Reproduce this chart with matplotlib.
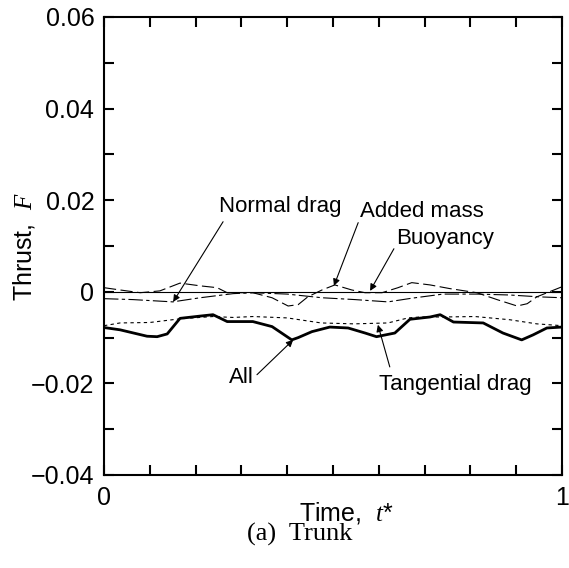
import matplotlib
matplotlib.use("Agg")
import matplotlib.pyplot as plt
from matplotlib.ticker import MultipleLocator, FixedLocator

# values (t*, F)
all_t = [0, 0.035, 0.094, 0.116, 0.138, 0.166, 0.21, 0.238, 0.269, 0.325, 0.367,
         0.41, 0.424, 0.454, 0.493, 0.533, 0.57, 0.595, 0.635, 0.668, 0.712,
         0.734, 0.763, 0.828, 0.871, 0.912, 0.937, 0.967, 1.0]
all_F = [-0.0078, -0.0083, -0.0097, -0.0098, -0.0092, -0.0058, -0.0053, -0.0050,
         -0.0065, -0.0065, -0.0076, -0.0105, -0.0100, -0.0087, -0.0077, -0.0079,
         -0.0090, -0.0098, -0.0090, -0.0060, -0.0055, -0.0050, -0.0066, -0.0068,
         -0.0090, -0.0105, -0.0094, -0.0079, -0.0077]

tan_t = [0, 0.035, 0.10, 0.166, 0.238, 0.282, 0.325, 0.35, 0.40, 0.474, 0.546,
         0.62, 0.664, 0.69, 0.74, 0.81, 0.886, 0.945, 1.0]
tan_F = [-0.0074, -0.0068, -0.0067, -0.0059, -0.0054, -0.0056, -0.0054, -0.0055,
         -0.0057, -0.0068, -0.0070, -0.0068, -0.0057, -0.0055, -0.0055, -0.0054,
         -0.0061, -0.0070, -0.0074]

nor_t = [0, 0.063, 0.15, 0.21, 0.282, 0.325, 0.40, 0.476, 0.548, 0.62, 0.672,
         0.74, 0.814, 0.886, 0.95, 1.0]
nor_F = [-0.0015, -0.0017, -0.0022, -0.0013, -0.0004, -0.0002, -0.0005, -0.0013,
         -0.0017, -0.0022, -0.0014, -0.0005, -0.0005, -0.0007, -0.0011, -0.0013]

add_t = [0, 0.035, 0.079, 0.122, 0.166, 0.21, 0.247, 0.269, 0.325, 0.367, 0.402,
         0.424, 0.445, 0.476, 0.504, 0.541, 0.57, 0.607, 0.642, 0.672, 0.712,
         0.755, 0.814, 0.858, 0.902, 0.924, 0.945, 1.0]
add_F = [0.0009, 0.0004, -0.0002, 0.0002, 0.0019, 0.0013, 0.0009, -0.0002, -0.0002,
         -0.0013, -0.0031, -0.0028, -0.0011, 0.0004, 0.0015, 0.0004, -0.0002,
         -0.0002, 0.0009, 0.0020, 0.0015, 0.0007, -0.0002, -0.0017, -0.0031,
         -0.0026, -0.0011, 0.0011]

buo_t = [0, 1]
buo_F = [-0.0001, -0.0001]

yticks = [-0.04, -0.02, 0, 0.02, 0.04, 0.06]
ytick_labels = ["\u22120.04", "\u22120.02", "0", "0.02", "0.04", "0.06"]
xticks = [0, 1]
xtick_labels = ["0", "1"]

# label text, text centre, arrow tail, arrow head
labels = ["Normal drag", "Added mass", "Buoyancy", "All", "Tangential drag"]
label_pos = [(0.384, 0.0186), (0.694, 0.0175), (0.745, 0.0116), (0.299, -0.0188), (0.766, -0.0203)]
arrow_tail = [(0.260, 0.0153), (0.555, 0.0151), (0.633, 0.0094), (0.334, -0.0181), (0.624, -0.0164)]
arrow_head = [(0.151, -0.0022), (0.502, 0.0013), (0.581, 0.0002), (0.413, -0.0105), (0.598, -0.0072)]

sans = ["Liberation Sans", "DejaVu Sans"]
plt.rcParams["font.family"] = sans
plt.rcParams["mathtext.fontset"] = "custom"
plt.rcParams["mathtext.it"] = "Liberation Serif:italic"
plt.rcParams["mathtext.rm"] = "Liberation Serif"

fig = plt.figure(figsize=(5.69, 5.68), dpi=100)
ax = fig.add_axes([104 / 569, 1 - 475 / 568, 458 / 569, 458 / 568])

ax.plot(buo_t, buo_F, color="black", lw=0.8)
ax.plot(add_t, add_F, color="black", lw=0.8, dashes=(11, 4))
ax.plot(nor_t, nor_F, color="black", lw=0.8, dashes=(13, 3, 3, 3))
ax.plot(tan_t, tan_F, color="black", lw=0.8, dashes=(3, 3))
ax.plot(all_t, all_F, color="black", lw=2.0)

for txt, p, a, b in zip(labels, label_pos, arrow_tail, arrow_head):
    ax.text(p[0], p[1], txt, ha="center", va="center", fontsize=16)
    ax.annotate("", xy=b, xytext=a,
                arrowprops=dict(arrowstyle="-|>", lw=0.8, color="black",
                                mutation_scale=10, shrinkA=0, shrinkB=0))

ax.set_xlim(0, 1)
ax.set_ylim(-0.04, 0.06)
ax.xaxis.set_major_locator(FixedLocator(xticks))
ax.xaxis.set_minor_locator(MultipleLocator(0.1))
ax.yaxis.set_major_locator(FixedLocator(yticks))
ax.yaxis.set_minor_locator(MultipleLocator(0.01))
ax.set_xticklabels(xtick_labels)
ax.set_yticklabels(ytick_labels)
ax.tick_params(which="both", direction="in", top=True, right=True,
               length=7, width=1.5, labelsize=18)
ax.tick_params(axis="y", pad=7)
ax.tick_params(axis="x", pad=8)
for s in ax.spines.values():
    s.set_linewidth(1.5)

ax.set_xlabel("Time,  $t$*", fontsize=18)
ax.xaxis.set_label_coords(0.53, -0.055)
ax.set_ylabel("Thrust,  $F$", fontsize=18)
ax.yaxis.set_label_coords(-0.146, 0.5)

fig.text(300 / 569, 1 - 534 / 568, "(a)  Trunk", ha="center", va="center",
         fontsize=19, family="Liberation Serif")

fig.savefig("out.png", dpi=100)
